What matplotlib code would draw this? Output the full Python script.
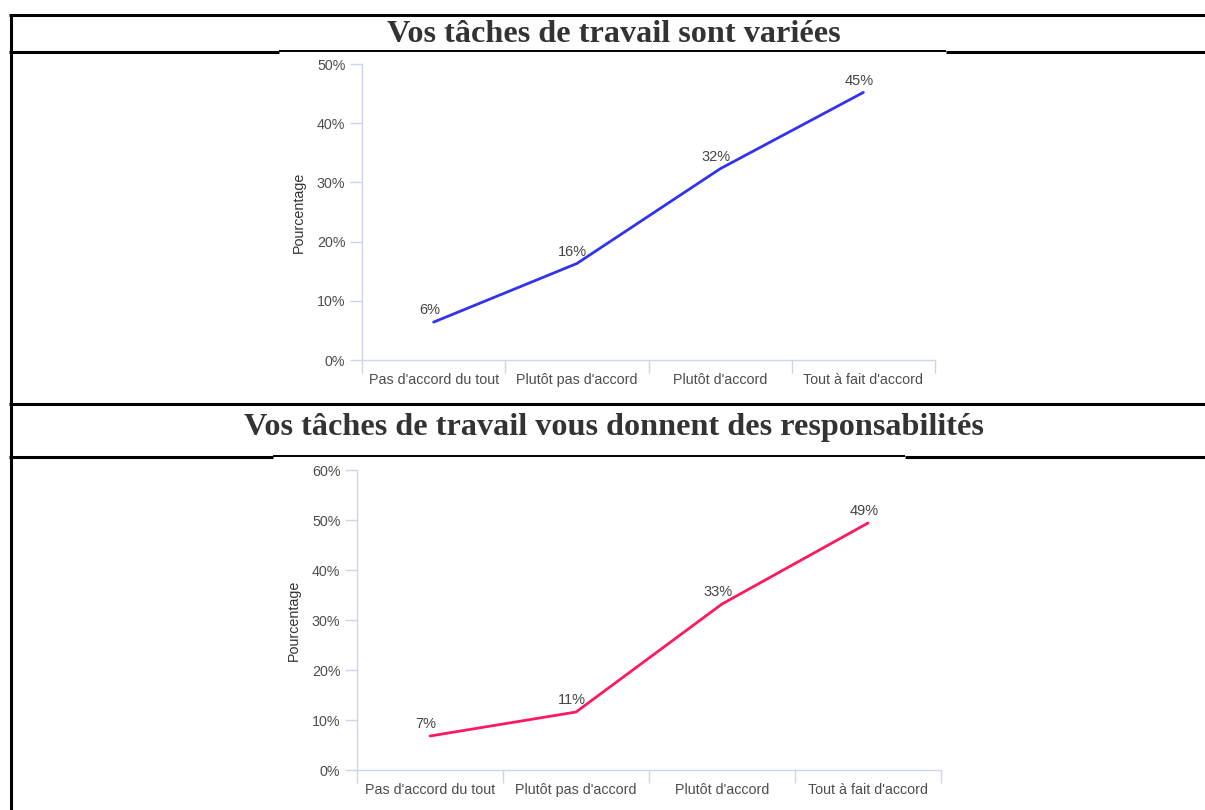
import matplotlib
matplotlib.use("Agg")
import matplotlib.pyplot as plt
from matplotlib.lines import Line2D

categories = ["Pas d'accord du tout", "Plutôt pas d'accord", "Plutôt d'accord", "Tout à fait d'accord"]
title1 = "Vos tâches de travail sont variées"
values1 = [6.4, 16.3, 32.3, 45.2]
labels1 = ["6%", "16%", "32%", "45%"]
yticks1 = [0, 10, 20, 30, 40, 50]

title2 = "Vos tâches de travail vous donnent des responsabilités"
values2 = [6.8, 11.6, 33.2, 49.4]
labels2 = ["7%", "11%", "33%", "49%"]
yticks2 = [0, 10, 20, 30, 40, 50, 60]

W, H = 1205, 810
fig = plt.figure(figsize=(W / 100, H / 100), dpi=100)
fig.patch.set_facecolor("white")

AXC = "#ccd6eb"
TXT = "#4d4d4d"
plt.rcParams["font.family"] = ["Liberation Sans", "DejaVu Sans"]


def px_axes(left, top, right, bottom):
    return fig.add_axes([left / W, 1 - bottom / H, (right - left) / W, (bottom - top) / H])


def draw_chart(ax, vals, labs, yt, color):
    x = list(range(len(categories)))
    ax.plot(x, vals, color=color, lw=2.0, solid_capstyle="round", zorder=3)
    for xi, v, l in zip(x, vals, labs):
        ax.annotate(l, (xi, v), xytext=(-3, 3.5), textcoords="offset points",
                    ha="center", va="bottom", fontsize=10.5, color="#444444")
    ax.set_xlim(-0.5, len(categories) - 0.5)
    ax.set_ylim(yt[0], yt[-1])
    ax.set_yticks(yt)
    ax.set_yticklabels([f"{t}%" for t in yt])
    ax.set_xticks([i - 0.5 for i in range(len(categories) + 1)])
    ax.set_xticklabels([])
    ax.set_xticks(x, minor=True)
    ax.set_xticklabels(categories, minor=True)
    ax.tick_params(axis="x", which="major", length=9, color=AXC, width=1)
    ax.tick_params(axis="x", which="minor", length=0, pad=9.5, labelsize=10.3, labelcolor=TXT)
    ax.tick_params(axis="y", length=9, color=AXC, width=1, labelsize=10.3, labelcolor=TXT, pad=3)
    for s in ["top", "right"]:
        ax.spines[s].set_visible(False)
    for s in ["left", "bottom"]:
        ax.spines[s].set_color(AXC)
        ax.spines[s].set_linewidth(1)
    ax.set_ylabel("Pourcentage", fontsize=10.3, color="#333333", labelpad=8)
    ax.set_facecolor("white")


ax1 = px_axes(362, 64, 935, 360)
draw_chart(ax1, values1, labels1, yticks1, "#3333ee")
ax2 = px_axes(357, 470, 941, 770)
draw_chart(ax2, values2, labels2, yticks2, "#ff1a5e")


def hline(y, x0, x1, lw):
    fig.add_artist(Line2D([x0 / W, x1 / W], [1 - y / H, 1 - y / H], color="black", lw=lw,
                          transform=fig.transFigure, solid_capstyle="butt"))


def vline(x, y0, y1, lw):
    fig.add_artist(Line2D([x / W, x / W], [1 - y0 / H, 1 - y1 / H], color="black", lw=lw,
                          transform=fig.transFigure, solid_capstyle="butt"))


hline(14.5, 9, W, 2.2)
hline(52, 9, 279, 2.2)
hline(51, 279, 946, 1.4)
hline(52, 946, W, 2.2)
hline(404.5, 9, W, 2.2)
hline(457, 9, 273, 2.2)
hline(456, 273, 905, 1.4)
hline(457, 905, W, 2.2)
vline(10.5, 13.5, H, 2.2)

fig.text(614 / W, 1 - 35 / H, title1, ha="center", va="center", fontsize=23.2,
         fontweight="bold", color="#333333", family=["Liberation Serif", "DejaVu Serif"])
fig.text(614 / W, 1 - 427 / H, title2, ha="center", va="center", fontsize=23.2,
         fontweight="bold", color="#333333", family=["Liberation Serif", "DejaVu Serif"])

fig.savefig("out.png", dpi=100, facecolor="white")
